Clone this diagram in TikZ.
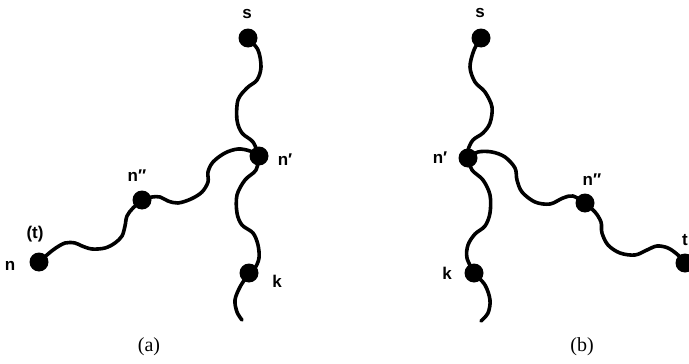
\documentclass[tikz,border=0pt]{standalone}
\usepackage{fontspec}
\setmainfont{Liberation Serif}
\newfontfamily\labfont{Liberation Sans}
\begin{document}
\begin{tikzpicture}[x=1pt,y=-1pt,
  wire/.style={line width=3.6pt,line cap=round,line join=round},
  dot/.style={circle,fill=black,inner sep=0pt,minimum size=19pt},
  lab/.style={font=\labfont\bfseries\fontsize{17}{19}\selectfont,inner sep=0pt},
  captext/.style={font=\fontsize{20}{22}\selectfont,inner sep=0pt}]
\useasboundingbox (0,0) rectangle (689,364);
% ---------- (a) ----------
\coordinate (sa) at (248,38);
\coordinate (npa) at (259,156);
\coordinate (nppa) at (142,200);
\coordinate (na) at (39,262);
\coordinate (ka) at (249,273);
\coordinate (enda) at (242,320);
\draw[wire] plot[smooth,tension=0.55] coordinates {(sa) (258,50) (261,67) (257,80) (247,88) (238,100) (237,120) (242,133) (253,142) (npa)};
\draw[wire] plot[smooth,tension=0.55] coordinates {(npa) (256,170) (245,180) (237,195) (237,213) (242,225) (253,233) (258,245) (259,258) (255,268) (ka)};
\draw[wire] plot[smooth,tension=0.55] coordinates {(ka) (240,287) (235,300) (237,312) (enda)};
\draw[wire] plot[smooth,tension=0.55] coordinates {(npa) (250,151) (238,149) (225,153) (213,162) (208,172) (208,182) (202,192) (191,199) (178,203) (168,201) (160,197) (152,197) (nppa)};
\draw[wire] plot[smooth,tension=0.55] coordinates {(nppa) (133,208) (127,216) (125,226) (122,236) (115,243) (105,248) (92,249) (82,246) (75,243) (65,243) (53,250) (na)};
\node[dot] (dsa) at (sa) {};
\node[dot] (dnpa) at (npa) {};
\node[dot] (dnppa) at (nppa) {};
\node[dot] (dna) at (na) {};
\node[dot] (dka) at (ka) {};
\node[lab] (lsa) at (247,14) {s};
\node[lab] (lnpa) at (285,160) {n′};
\node[lab] (lnppa) at (137,176) {n″};
\node[lab] (lna) at (10,266) {n};
\node[lab] (lta) at (35,234) {(t)};
\node[lab] (lka) at (277,281) {k};
\node[captext] (capa) at (149,347) {(a)};
% ---------- (b) ----------
\coordinate (sb) at (481,38);
\coordinate (npb) at (468,158);
\coordinate (nppb) at (585,203);
\coordinate (tb) at (685,263);
\coordinate (kb) at (474,273);
\coordinate (endb) at (481,321);
\draw[wire] plot[smooth,tension=0.55] coordinates {(sb) (474,50) (470,67) (475,82) (485,92) (492,107) (490,123) (483,133) (473,140) (468,150) (npb)};
\draw[wire] plot[smooth,tension=0.55] coordinates {(npb) (472,170) (483,180) (490,195) (490,213) (485,226) (475,234) (468,245) (467,258) (kb)};
\draw[wire] plot[smooth,tension=0.55] coordinates {(kb) (485,285) (490,300) (488,313) (endb)};
\draw[wire] plot[smooth,tension=0.55] coordinates {(npb) (478,152) (492,152) (505,157) (515,168) (517,180) (522,192) (535,202) (550,204) (563,198) (573,196) (nppb)};
\draw[wire] plot[smooth,tension=0.55] coordinates {(nppb) (595,212) (601,222) (602,233) (608,245) (620,253) (635,255) (647,250) (657,246) (668,248) (678,255) (tb)};
\node[dot] (dsb) at (sb) {};
\node[dot] (dnpb) at (npb) {};
\node[dot] (dnppb) at (nppb) {};
\node[dot] (dtb) at (tb) {};
\node[dot] (dkb) at (kb) {};
\node[lab] (lsb) at (480,13) {s};
\node[lab] (lnpb) at (440,158) {n′};
\node[lab] (lnppb) at (592,180) {n″};
\node[lab,anchor=east] (ltb) at (688,240) {t};
\node[lab] (lkb) at (447,273) {k};
\node[captext] (capb) at (582,347) {(b)};
\end{tikzpicture}
\end{document}
